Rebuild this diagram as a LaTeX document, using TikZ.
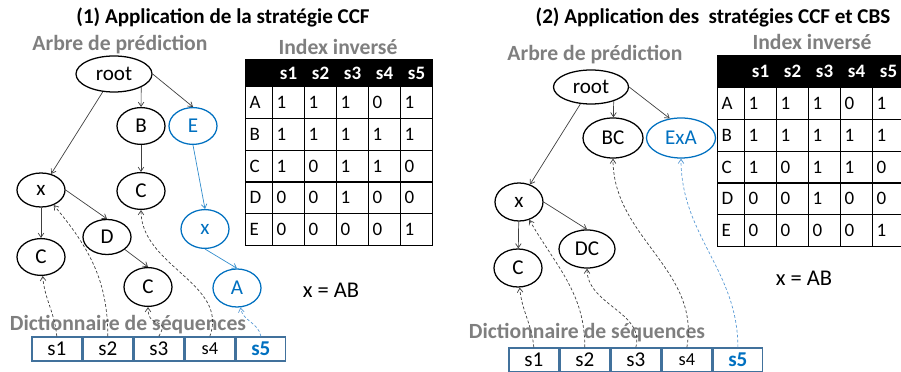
\documentclass[tikz,border=0pt]{standalone}
\usepackage{fontspec}
\setmainfont{Carlito}
\usepackage{tikz}
\usetikzlibrary{arrows.meta,positioning,shapes.geometric}
\definecolor{predblue}{RGB}{0,112,192}
\definecolor{lineblue}{RGB}{91,155,213}
\definecolor{labgrey}{RGB}{127,127,127}
\definecolor{seqblue}{RGB}{65,113,156}
\newcommand{\fs}[1]{\fontsize{#1}{#1}\selectfont}
% inverted index table: #1 name prefix, #2 header height (px)
\newcommand{\invindex}[2]{%
  \node[hcell, minimum width=0.675cm, text width=0.475cm, minimum height=#2*0.025cm] (#1-h0) at (0,0) {};
  \foreach \s [count=\c] in {s1,s2,s3,s4,s5}
    \node[hcell, minimum height=#2*0.025cm] (#1-h\c) at ({27+32*(\c-1)},0) {\s};
  \foreach \row/\vals [count=\r] in {A/{1,1,1,0,1},B/{1,1,1,1,1},C/{1,0,1,1,0},D/{0,0,1,0,0},E/{0,0,0,0,1}}{
    \node[cell, minimum width=0.675cm, text width=0.475cm] (#1-t\row0) at (0,{#2+31.8*(\r-1)}) {\row};
    \foreach \v [count=\c] in \vals
      \node[cell] (#1-t\row\c) at ({27+32*(\c-1)},{#2+31.8*(\r-1)}) {\v};
  }
}

\begin{document}
\begin{tikzpicture}[
  x=0.025cm, y=-0.025cm,
  font=\fs{15},
  nd/.style={ellipse, draw, line width=0.9pt, inner sep=0pt, minimum width=1.2cm, minimum height=0.92cm},
  bnd/.style={nd, draw=predblue, text=predblue},
  ar/.style={-{Straight Barb[length=3pt,width=4pt]}, draw=black!75, line width=0.5pt},
  bar/.style={ar, draw=predblue!80},
  da/.style={ar, dash pattern=on 2pt off 1.5pt, draw=black!75},
  bda/.style={da, draw=lineblue},
  ttl/.style={font=\fs{15}\bfseries, inner sep=0pt},
  lbl/.style={font=\fs{15.4}\bfseries, text=labgrey, inner sep=0pt},
  sq/.style={draw=seqblue, line width=1pt, minimum width=1.24cm, minimum height=0.6cm, inner sep=0pt, font=\fs{15}},
  cell/.style={draw, line width=0.8pt, anchor=north west, minimum width=0.8cm, minimum height=0.795cm,
    text width=0.6cm, inner xsep=0.1cm, inner ysep=0pt, align=left, font=\fs{13.5}},
  hcell/.style={cell, fill=black, text=white, align=center, font=\fs{13.5}\bfseries}
]
\useasboundingbox (0,0) rectangle (901,372);

% (1) CCF
\node[ttl] (a-title) at (223,17) {(1) Application de la stratégie CCF};
\node[lbl] (a-tree) at (120,45) {Arbre de prédiction};
\node[lbl] (a-index) at (338,47) {Index inversé};
\node[lbl] (a-dict) at (128,325) {Dictionnaire de séquences};
\node[font=\fs{16}] (a-eq) at (331,290) {x = AB};

\node[nd, minimum width=1.9cm, minimum height=0.9cm] (a-root) at (114,74) {root};
\node[nd] (a-B) at (141,126) {B};
\node[bnd] (a-E) at (193,126) {E};
\node[nd, minimum height=0.85cm] (a-x) at (41,190) {x};
\node[nd] (a-C1) at (41,257) {C};
\node[nd] (a-C2) at (141,191) {C};
\node[nd, minimum height=0.875cm] (a-D) at (107,237) {D};
\node[nd, minimum height=0.97cm] (a-C3) at (148,287) {C};
\node[bnd, minimum height=0.97cm] (a-xb) at (205,229) {x};
\node[bnd, minimum height=0.95cm] (a-A) at (237,288) {A};

\node[sq] (a-s1) at (56.8,349) {s1};
\node[sq, right=0pt of a-s1] (a-s2) {s2};
\node[sq, right=0pt of a-s2] (a-s3) {s3};
\node[sq, right=0pt of a-s3, font=\fs{13}] (a-s4) {s4};
\node[sq, right=0pt of a-s4, text=predblue, font=\fs{15}\bfseries] (a-s5) {s5};

\begin{scope}[shift={(245,59)}]
  \invindex{a}{27}
\end{scope}

\draw[ar] (a-root) -- (a-x);
\draw[ar] (a-root.-26) -- (a-B);
\draw[ar] (a-root.east) -- (a-E.north);
\draw[ar] (a-B) -- (a-C2);
\draw[ar] (a-x) -- (a-C1);
\draw[ar] (a-x.east) -- (a-D.north);
\draw[ar] (a-D.-35) -- (a-C3.north);
\draw[bar] (a-E.south) -- (a-xb.north);
\draw[bar] (a-xb.south) -- (a-A.north);

\draw[da] (a-s1.north) to[out=95,in=-85] (a-C1);
\draw[da] (a-s2.north) to[out=90,in=-50] (a-x);
\draw[da] (a-s3.north) to[out=60,in=-90,looseness=2] (a-C3);
\draw[da] (a-s4.north) to[out=70,in=-90] (a-C2);
\draw[bda] (a-s5.north) to[out=100,in=-80] (a-A);

% (2) CCF + CBS
\node[ttl] (b-title) at (713,17) {(2) Application des\ \ stratégies CCF et CBS};
\node[lbl] (b-tree) at (595,55) {Arbre de prédiction};
\node[lbl] (b-index) at (812,42) {Index inversé};
\node[lbl] (b-dict) at (587,333) {Dictionnaire de séquences};
\node[font=\fs{16}] (b-eq) at (804,278) {x = AB};

\node[nd, minimum width=1.875cm, minimum height=0.85cm] (b-root) at (591,87) {root};
\node[nd, minimum width=1.5cm, minimum height=1cm] (b-BC) at (613,138) {BC};
\node[bnd, minimum width=1.725cm, minimum height=1cm] (b-ExA) at (681,138) {ExA};
\node[nd, minimum height=0.95cm] (b-x) at (519,202) {x};
\node[nd, minimum height=0.95cm] (b-C) at (518,268) {C};
\node[nd, minimum width=1.4cm, minimum height=0.95cm] (b-DC) at (587,249) {DC};

\node[sq] (b-s1) at (533.8,360) {s1};
\node[sq, right=0pt of b-s1] (b-s2) {s2};
\node[sq, right=0pt of b-s2] (b-s3) {s3};
\node[sq, right=0pt of b-s3, font=\fs{13}] (b-s4) {s4};
\node[sq, right=0pt of b-s4, text=predblue, font=\fs{15}\bfseries] (b-s5) {s5};

\begin{scope}[shift={(717,55)}]
  \invindex{b}{32}
\end{scope}

\draw[ar] (b-root) -- (b-x);
\draw[ar] (b-root.-32) -- (b-BC);
\draw[ar] (b-root.east) -- (b-ExA.120);
\draw[ar] (b-x) -- (b-C);
\draw[ar] (b-x.east) -- (b-DC.north);

\draw[da] (b-s1.north) to[out=95,in=-85] (b-C);
\draw[da] (b-s2.north) to[out=90,in=-60] (b-x);
\draw[da] (b-s3.north) to[out=75,in=-90] (b-DC);
\draw[da] (b-s4.north) to[out=80,in=-90] (b-BC);
\draw[bda] (b-s5.north) to[out=90,in=-90] (b-ExA);
\end{tikzpicture}
\end{document}
